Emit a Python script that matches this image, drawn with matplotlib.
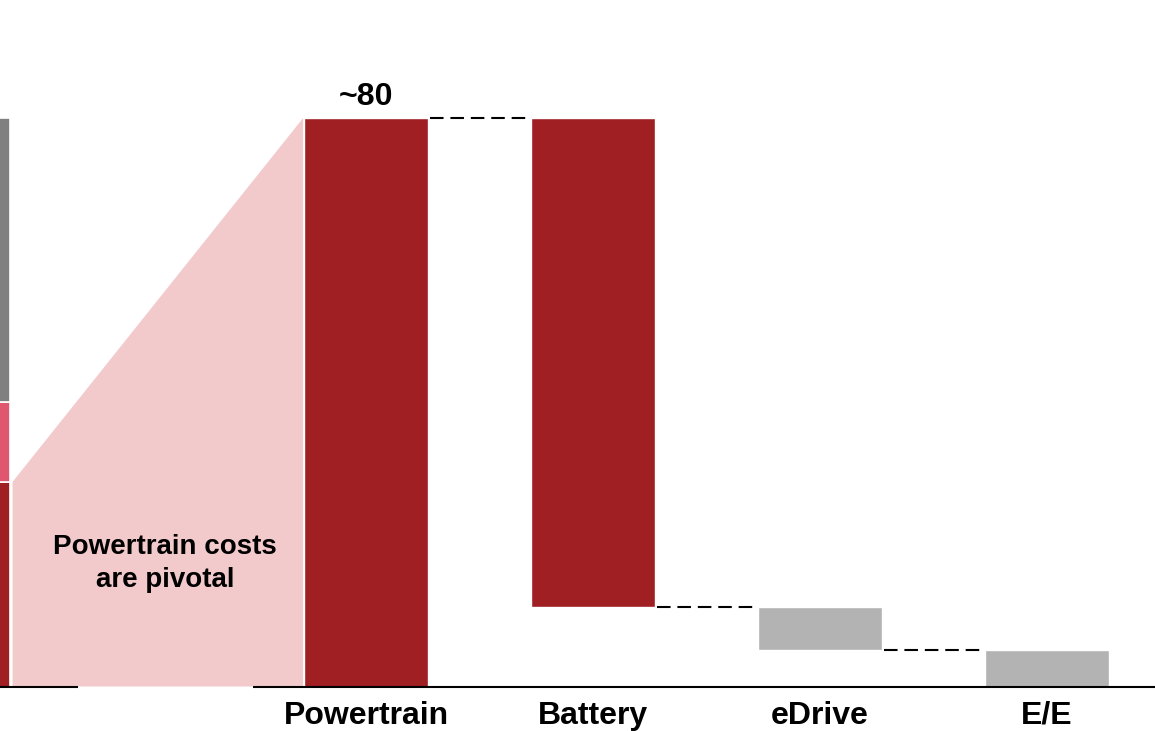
import matplotlib
matplotlib.use("Agg")
import matplotlib.pyplot as plt
from matplotlib.patches import Polygon

plt.rcParams['font.family'] = ['Liberation Sans', 'DejaVu Sans']

# Waterfall data (cost shares)
categories = ["Powertrain", "Battery", "eDrive", "E/E"]
powertrain_total = 80.0
component_values = [68.8, 6.1, 5.1]
total_label = "~80"

# Stacked vehicle-cost bar at the left edge (bottom to top)
stack_values = [28.8, 11.2, 40.0]
stack_colors = ["#A01F22", "#E0566E", "#808080"]

dark_red = "#A01F22"
light_gray = "#B3B3B3"
zoom_pink = "#F3CACB"

fig = plt.figure(figsize=(11.55, 7.31), dpi=100)
ax = fig.add_axes([0, 0, 1, 1])
ax.set_xlim(-1.6123, 3.4758)
ax.set_ylim(-6.26, 96.61)
ax.axis("off")

width = 0.546
positions = list(range(len(categories)))
stack_x = -1.841
gap = 0.011

# Zoom wedge linking the powertrain slice to the detailed bar
left = stack_x + width / 2 + gap
right = positions[0] - width / 2 - 0.004
wedge = Polygon([(left, 0), (left, stack_values[0]), (right, powertrain_total), (right, 0)],
                closed=True, facecolor=zoom_pink, edgecolor="none", zorder=1)
ax.add_patch(wedge)

# Stacked bar
bottom = 0.0
for v, c in zip(stack_values, stack_colors):
    ax.bar(stack_x, v, width=width, bottom=bottom, color=c, edgecolor="white",
           linewidth=1.2, zorder=2)
    bottom += v

# Total bar
ax.bar(positions[0], powertrain_total, width=width, color=dark_red,
       edgecolor="white", linewidth=1.0, zorder=2)

# Component bars hanging from the running total
level = powertrain_total
bar_colors = [dark_red, light_gray, light_gray]
bottoms = [0.0]
for pos, v, c in zip(positions[1:], component_values, bar_colors):
    ax.bar(pos, v, width=width, bottom=level - v, color=c, edgecolor="white",
           linewidth=1.0, zorder=2)
    bottoms.append(level - v)
    level -= v

# Dashed connectors between consecutive bars
connector_levels = [powertrain_total] + bottoms[1:-1]
for i, yv in enumerate(connector_levels):
    ax.plot([positions[i] + width / 2 + 0.008, positions[i + 1] - width / 2 - 0.004],
            [yv, yv], color="black", linewidth=1.5,
            linestyle=(0, (6.5, 3.3)), zorder=3, dash_capstyle="butt")

# Baseline, interrupted under the wedge caption
ax.plot([-1.6123, -1.269], [0, 0], color="black", linewidth=1.5, zorder=3,
        solid_capstyle="butt")
ax.plot([-0.498, 3.4758], [0, 0], color="black", linewidth=1.5, zorder=3,
        solid_capstyle="butt")

# Labels
for pos, name in zip(positions, categories):
    ax.text(pos, -4.1, name, ha="center", va="center", fontsize=23,
            fontweight="bold", color="black")

ax.text(positions[0], powertrain_total + 1.8, total_label, ha="center",
        va="baseline", fontsize=23, fontweight="bold", color="black")

ax.text(-0.885, 17.3, "Powertrain costs\nare pivotal", ha="center", va="center",
        fontsize=20, fontweight="bold", color="black", linespacing=1.38, zorder=4)

fig.savefig("out.png", dpi=100)
